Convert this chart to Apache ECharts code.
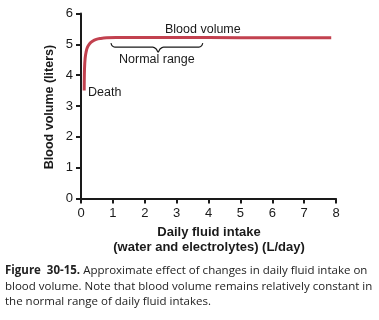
<!DOCTYPE html>
<html>
<head>
<meta charset="utf-8">
<script src="https://cdn.jsdelivr.net/npm/echarts@6/dist/echarts.min.js"></script>
<style>
  html, body { margin: 0; padding: 0; background: #fff; }
  #chart { width: 379px; height: 320px; }
</style>
</head>
<body>
<div id="chart"></div>
<script>
  // daily fluid intake (L/day) vs blood volume (liters)
  var intake = [0.1, 0.11, 0.13, 0.16, 0.2, 0.27, 0.36, 0.48, 0.62, 0.8, 1.1, 2, 4, 6, 7.85]
  var volume = [3.5, 4.2, 4.55, 4.75, 4.9, 5.02, 5.1, 5.16, 5.19, 5.21, 5.22, 5.22, 5.22, 5.21, 5.21]
  // brace under the normal range
  var braceX = [0.94, 0.98, 1.06, 2.25, 2.36, 2.42, 2.48, 2.59, 3.7, 3.78, 3.82]
  var braceY = [5.04, 4.95, 4.91, 4.91, 4.85, 4.75, 4.85, 4.91, 4.91, 4.95, 5.04]
  var xTicks = [0, 1, 2, 3, 4, 5, 6, 7, 8]
  var yTicks = [0, 1, 2, 3, 4, 5, 6]

  var chart = echarts.init(document.getElementById('chart'))
  var ink = '#1a1a1a'
  var font = 'Liberation Sans, Arial, sans-serif'

  chart.setOption({
    animation: false,
    grid: { left: 81, right: 43, top: 13.5, bottom: 121.5 },
    xAxis: {
      type: 'value', min: xTicks[0], max: xTicks[xTicks.length - 1], interval: 1,
      axisLine: { lineStyle: { color: ink, width: 2 } },
      axisTick: { show: true, length: 5, lineStyle: { color: ink, width: 2 } },
      axisLabel: { color: ink, fontSize: 13, fontFamily: font, margin: 8 },
      splitLine: { show: false }
    },
    yAxis: {
      type: 'value', min: yTicks[0], max: yTicks[yTicks.length - 1], interval: 1,
      axisLine: { show: true, lineStyle: { color: ink, width: 2 } },
      axisTick: { show: true, length: 5, lineStyle: { color: ink, width: 2 } },
      axisLabel: { color: ink, fontSize: 13, fontFamily: font, margin: 8 },
      splitLine: { show: false }
    },
    series: [
      {
        type: 'line', smooth: 0.4, symbol: 'none',
        data: intake.map(function (x, i) { return [x, volume[i]] }),
        lineStyle: { color: '#c2414f', width: 3 }
      },
      {
        type: 'line', smooth: 0.3, symbol: 'none',
        data: braceX.map(function (x, i) { return [x, braceY[i]] }),
        lineStyle: { color: ink, width: 1.2 }
      }
    ],
    graphic: [
      { type: 'text', left: 165, top: 23, style: { text: 'Blood volume', fill: ink, font: '12.5px ' + font } },
      { type: 'text', left: 119, top: 53, style: { text: 'Normal range', fill: ink, font: '12.5px ' + font } },
      { type: 'text', left: 88, top: 86, style: { text: 'Death', fill: ink, font: '12.5px ' + font } },
      {
        type: 'text', x: 50, y: 107, rotation: Math.PI / 2,
        style: { text: 'Blood volume (liters)', fill: ink, font: 'bold 12.5px ' + font, align: 'center', verticalAlign: 'middle' }
      },
      {
        type: 'text', x: 209, y: 225,
        style: { text: 'Daily fluid intake\n(water and electrolytes) (L/day)', fill: ink, font: 'bold 13px ' + font, align: 'center', lineHeight: 15 }
      },
      {
        type: 'text', left: 5, top: 263,
        style: {
          text: '{b|Figure  30-15.} Approximate effect of changes in daily fluid intake on\nblood volume. Note that blood volume remains relatively constant in\nthe normal range of daily fluid intakes.',
          fill: '#222', font: '11.5px Open Sans, sans-serif', lineHeight: 15.5,
          rich: { b: { fontWeight: 'bold', fontSize: 11.5, fontFamily: 'Open Sans, sans-serif', fill: '#222' } }
        }
      }
    ]
  })
</script>
</body>
</html>
